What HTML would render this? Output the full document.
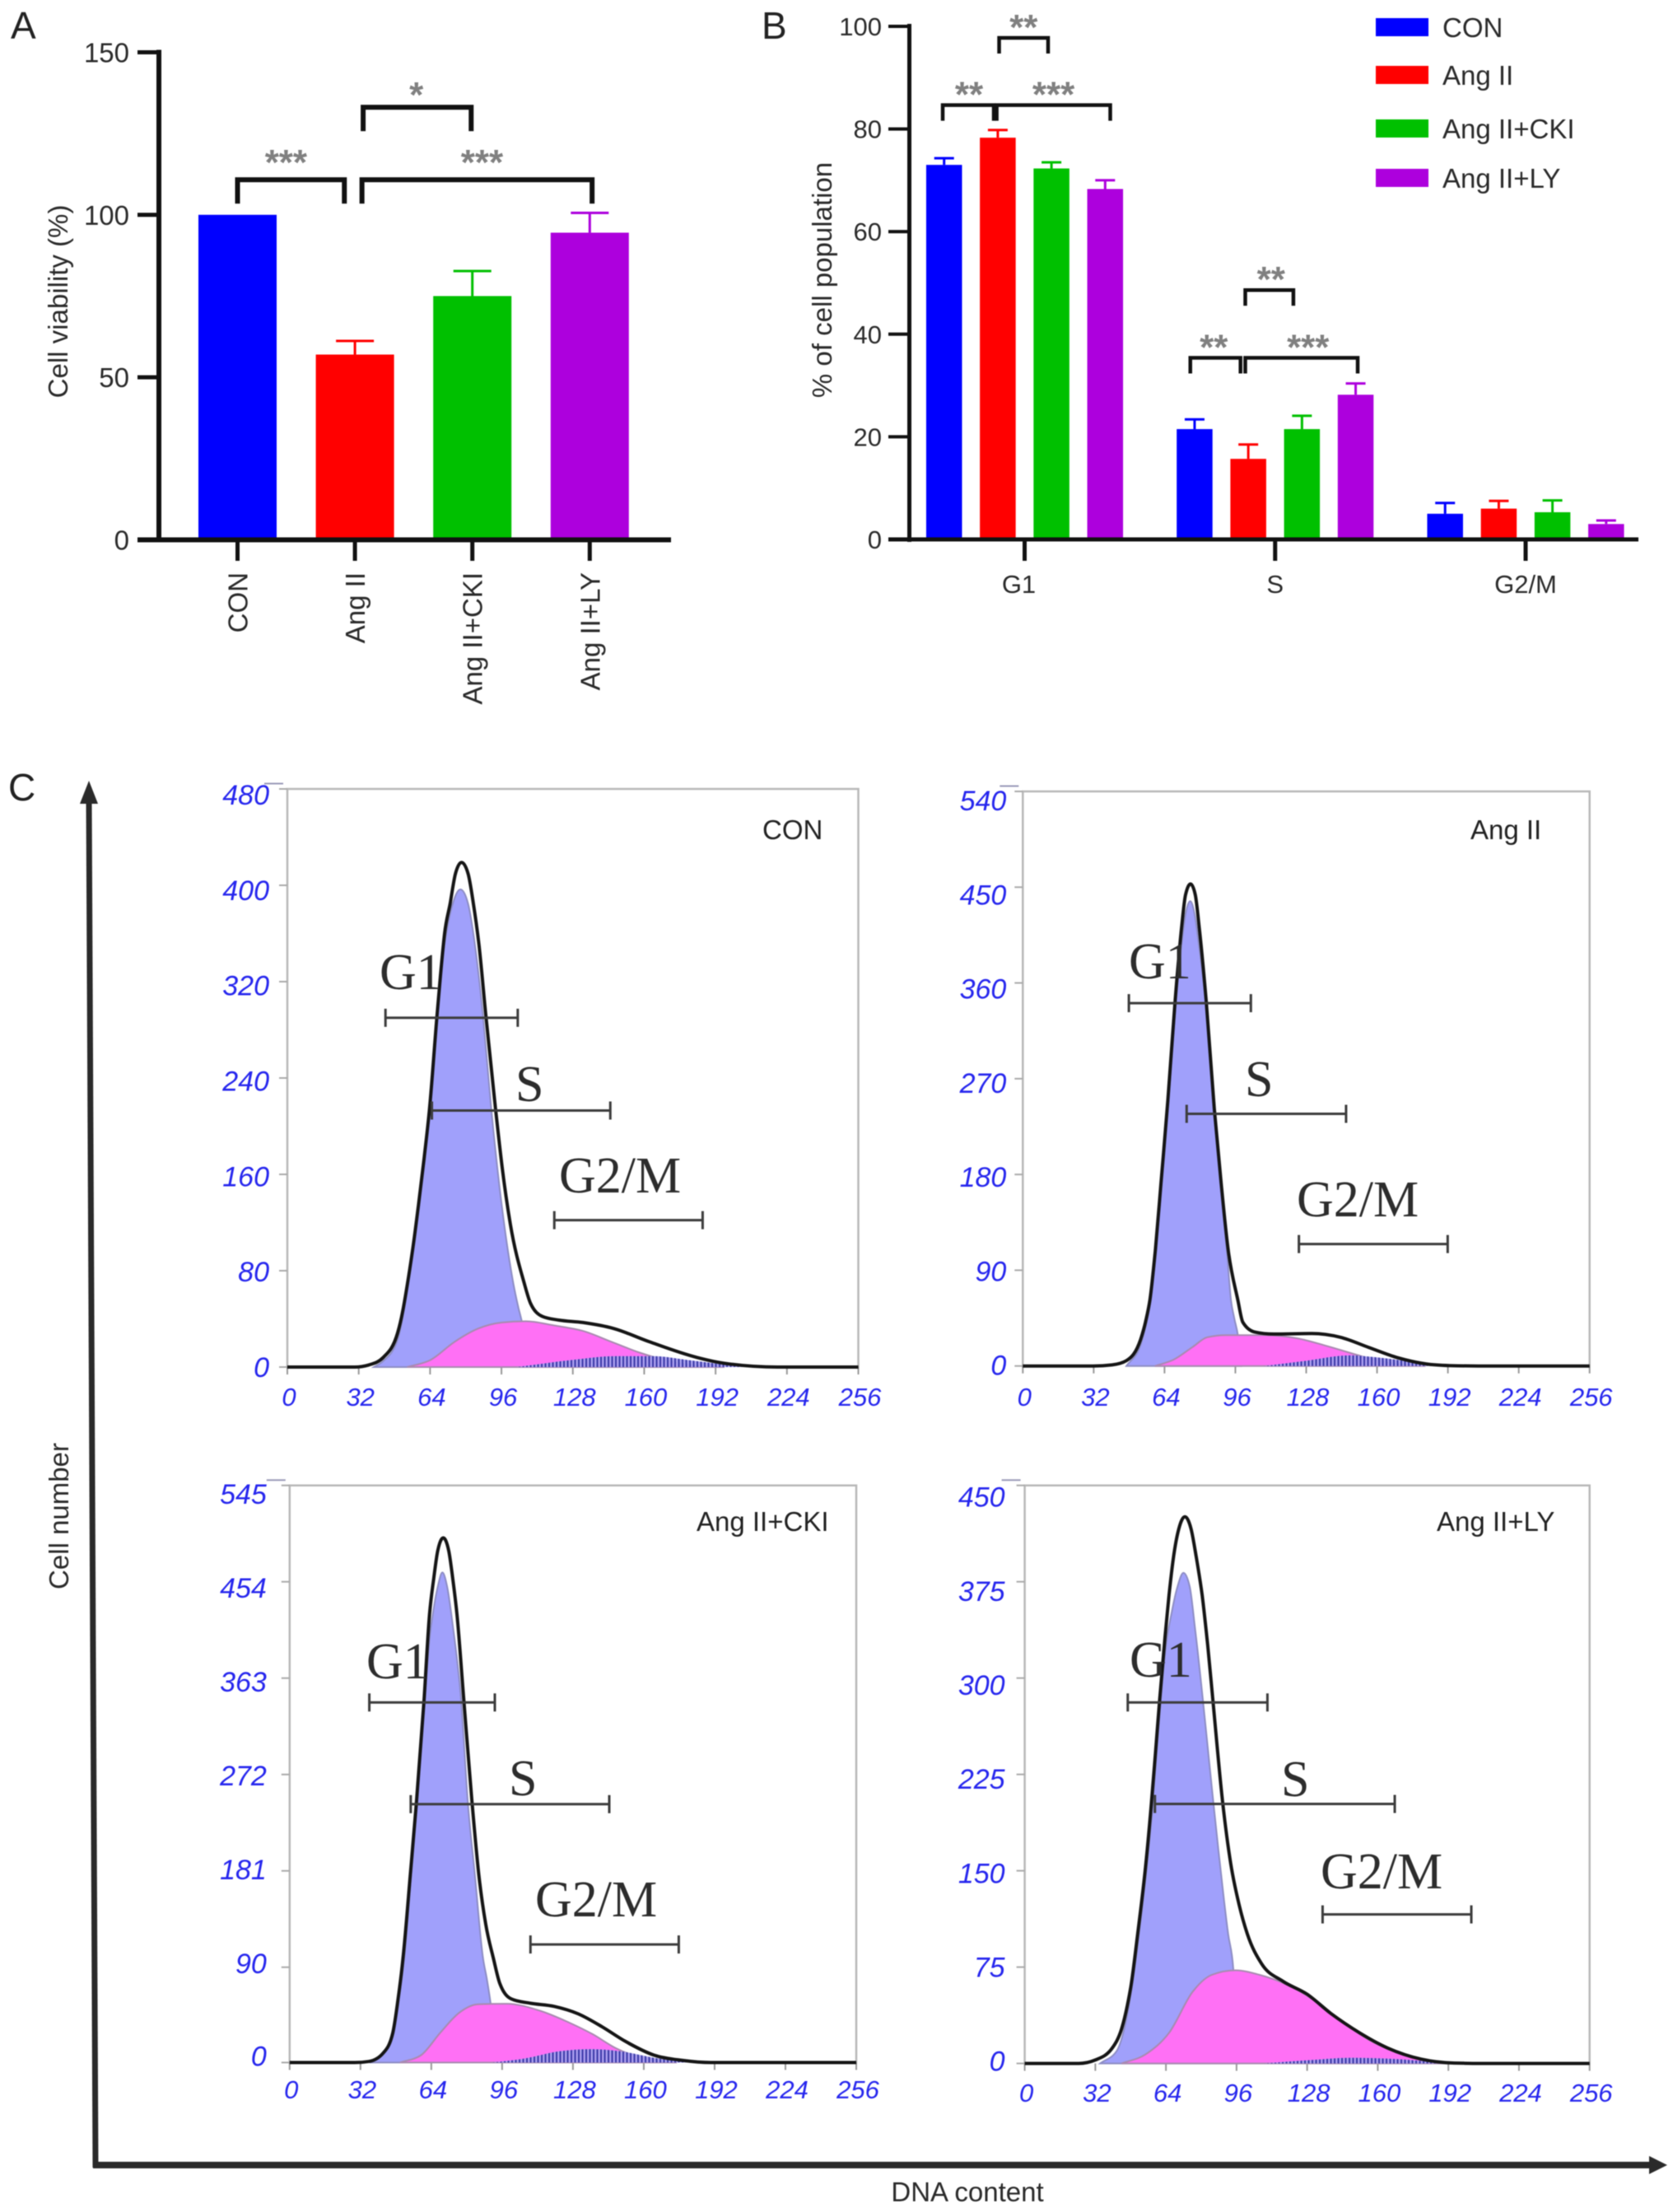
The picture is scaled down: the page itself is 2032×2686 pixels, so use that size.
<!DOCTYPE html>
<html lang="en">
<head>
<meta charset="utf-8">
<title>Cell viability and cell cycle distribution</title>
<style>
  html, body { margin: 0; padding: 0; background: #fff; }
  svg { display: block; font-family: "Liberation Sans", sans-serif; filter: blur(0.6px); }
</style>
</head>
<body>
<svg id="figure" xmlns="http://www.w3.org/2000/svg" width="2032" height="2686" viewBox="0 0 2032 2686">
  <defs>
    <pattern id="g2m-stripes" patternUnits="userSpaceOnUse" width="4.5" height="4">
      <rect x="0" y="0" width="2.2" height="4" fill="#3c3ca8"></rect>
      <rect x="2.2" y="0" width="2.3" height="4" fill="#a9a0f0"></rect>
    </pattern>
  </defs>
  <rect x="0" y="0" width="2032" height="2686" fill="#ffffff"></rect>

  <text x="13" y="47" font-size="46" fill="#222">A</text>
  <text x="925" y="47" font-size="46" fill="#222">B</text>
  <text x="10" y="972" font-size="46" fill="#222">C</text>

  <text transform="translate(82,366) rotate(-90)" text-anchor="middle" font-size="33" fill="#2a2a2a">Cell viability (%)</text>
  <text transform="translate(1010,340) rotate(-90)" text-anchor="middle" font-size="33" fill="#2a2a2a">% of cell population</text>
  <text transform="translate(83,1841) rotate(-90)" text-anchor="middle" font-size="33" fill="#2a2a2a">Cell number</text>
  <text x="1175" y="2673" text-anchor="middle" font-size="33" fill="#2a2a2a">DNA content</text>

  <line x1="116" y1="2632" x2="108" y2="970" stroke="#2a2a2a" stroke-width="7"></line>
  <polygon points="108,948 119,976 97,976" fill="#2a2a2a"></polygon>
  <line x1="113" y1="2629" x2="2005" y2="2629" stroke="#2a2a2a" stroke-width="8"></line>
  <polygon points="2025,2629 2003,2618 2003,2640" fill="#2a2a2a"></polygon>

  <g id="chart-a"></g>
  <g id="chart-b"></g>
  <g id="chart-c"></g>
</svg>

<script>
/* ---------- Panel A data ---------- */
const viabilityCategories = ['CON', 'Ang II', 'Ang II+CKI', 'Ang II+LY'];
const viabilityMeans = [100, 57, 75, 94.5];
const viabilityErrorTops = [100, 61.2, 82.7, 100.6];
const viabilityTicks = [0, 50, 100, 150];

/* ---------- Panel B data ---------- */
const phaseLabels = ['G1', 'S', 'G2/M'];
const seriesNames = ['CON', 'Ang II', 'Ang II+CKI', 'Ang II+LY'];
const conPopulation = [73, 21.5, 5];
const angPopulation = [78.3, 15.7, 6];
const ckiPopulation = [72.3, 21.5, 5.3];
const lyPopulation = [68.3, 28.2, 3];
const conPopulationTops = [74.3, 23.4, 7.1];
const angPopulationTops = [79.8, 18.5, 7.5];
const ckiPopulationTops = [73.5, 24.1, 7.6];
const lyPopulationTops = [70, 30.4, 3.7];
const populationTicks = [0, 20, 40, 60, 80, 100];

/* ---------- Panel C data: [channel, count] ---------- */
const channelTicks = [0, 32, 64, 96, 128, 160, 192, 224, 256];

const conCountTicks = [0, 80, 160, 240, 320, 400, 480];
const conOutline = [[0,0],[30.2,0],[36.6,1.8],[43,8],[49.4,28],[51.8,47],[53.9,69.7],[56.4,100.5],[58.8,134.7],[61.3,173.2],[63.8,215.4],[67.1,292],[68.7,326],[70.5,360],[73,385],[75.4,410],[78.1,419],[81,410],[83.4,385],[85.9,351],[89,292],[93.3,215.4],[96.3,166],[100,118.5],[106.2,69.7],[109,53],[114.4,42],[121.8,39],[132.5,37],[146.3,32],[162.3,21],[183.6,8],[196.4,3],[219.8,0],[256,0]];
const conG1 = [[38.8,0],[43,5],[49.4,22.6],[53.9,66],[56.4,97],[58.8,131],[61.3,170],[63.8,212],[67.1,289],[69.9,344],[71.7,364.7],[74.2,385],[77.6,396.6],[81,385],[83.4,360],[87.7,292],[91.4,215],[95.1,150],[98.8,98],[101.3,69.7],[103.5,50],[105.2,37],[108,0]];
const conS = [[53.7,0],[64.3,6],[75,21],[85.6,32],[96.3,37],[107,38],[119.7,34.5],[132.5,30],[145.3,21],[158,12],[171,5],[183.6,1],[196,0]];
const conG2M = [[102.7,0],[128,6],[147.4,9],[164.4,9],[179,6],[192,3],[205,0]];
const conGates = [[44,103.3,290],[64.8,144.8,213],[119.7,186.2,122]];

const angCountTicks = [0, 90, 180, 270, 360, 450, 540];
const angOutline = [[0,0],[31.8,0],[40.3,1],[46.8,5],[53.2,25],[55.5,42],[57.4,62.2],[59.9,109.9],[62.4,171.8],[65.5,249.2],[68.8,343.4],[71.7,411.8],[73.5,442.7],[75.75,453],[77.9,442.7],[79.7,411.8],[82.8,343.4],[86.5,241.5],[89.6,171.8],[92.7,109.9],[97.1,62.2],[99.4,41],[104.7,32],[113.3,30],[130.5,30.5],[143.4,27],[156.2,17.5],[169,8],[182,2],[192.7,0.4],[205.6,0],[256,0]];
const angG1 = [[46.8,0],[53.2,20],[55.8,40],[57.7,62],[60.2,110],[62.7,171.8],[65.8,249],[69.2,343.4],[71.7,396],[73.5,424.7],[75.6,436.9],[77.6,424.7],[79.5,396],[82.5,343.4],[86.2,241.5],[89.3,171.8],[92.1,110],[94,62],[95.5,45],[97.2,28],[98.7,0]];
const angS = [[59.7,0],[68.2,6],[76.8,18],[83.3,27],[91.8,29],[109,29],[124,26],[137,19],[150,11],[162.7,4],[177.7,0.4],[182,0]];
const angG2M = [[109,0],[128.3,5],[147.6,10],[160.5,8],[175.5,4],[188.4,0]];
const angGates = [[47.9,103,341],[74,146,237],[124.7,191.9,114.6]];

const ckiCountTicks = [0, 90, 181, 272, 363, 454, 545];
const ckiOutline = [[0,0],[29.4,0],[35.8,1],[42.3,9],[46.6,28],[49,60],[51.2,98],[54.5,177],[57.3,245.9],[60.7,341.8],[63.2,423.4],[65.1,457],[66.9,483],[69.4,495.5],[71.9,483],[73.7,457],[75.6,423.4],[78.7,341.8],[82.4,245.9],[85.5,177],[88.6,130.5],[92.1,98],[94.9,75],[100.2,60],[108.8,56],[119.5,53],[130.3,46],[141,34],[151.7,20],[164.6,7],[177.5,2],[190.4,0],[256,0]];
const ckiG1 = [[36.9,0],[44.4,15.5],[48,45],[51.7,98],[54.9,177],[57.6,246],[61.1,345.6],[63.2,400],[65.1,429],[66.9,449],[69,462.8],[71.2,449],[73.7,413],[77.5,341.8],[80.5,245.9],[83.7,177],[87.4,98],[89.1,79],[90.8,56],[93.8,0]];
const ckiS = [[49.8,0],[59.4,7],[68,28],[76.6,47],[85.2,55],[98,55.5],[113,49],[126,38],[136.7,27],[147.4,13.5],[158,5],[171,0.4],[175,0]];
const ckiG2M = [[91.6,0],[106.6,4],[121.7,10.6],[136.7,12.7],[149.6,10.6],[164.6,4.5],[181.8,0]];
const ckiGates = [[36,92.7,340],[54.7,144.4,244],[108.8,175.8,111.5]];

const lyCountTicks = [0, 75, 150, 225, 300, 375, 450];
const lyOutline = [[0,0],[24.5,0],[32,2.7],[39.6,11.8],[43.9,27],[46.5,45],[48.2,61],[51.2,100.8],[54.9,155.3],[57.4,202.3],[59.2,240.8],[61.1,282.5],[63.6,332.7],[65.4,364.7],[67.3,392.6],[69.8,416],[72.6,425.6],[75.4,416],[77.9,392.6],[80.4,364.7],[82.9,326],[85.3,282.5],[89.7,203.4],[93.4,155.3],[97.2,123.3],[100.9,100.8],[107.4,77.5],[117,64],[127.9,54],[138.7,39],[151.6,24],[164.5,12],[179.6,3.4],[194.6,0.3],[207.6,0],[256,0]];
const lyG1 = [[34.2,0],[41.8,10],[46,34],[48.8,62],[51.8,100.8],[55.3,153],[58,201],[59.6,239],[61.7,283.7],[63.6,320],[66.7,352],[69.2,371],[71.9,381.9],[74.8,371],[77.3,337],[85.3,206.6],[87.8,166],[90.3,127.5],[92.2,100.8],[94.5,74],[96.7,0]];
const lyS = [[43.9,0],[54.7,7],[65.5,24],[76.2,56],[84.8,69],[95.6,72.5],[106.4,69],[119.3,61],[130,50.5],[143,33.7],[155.9,18.5],[168.8,8.4],[181.7,2.4],[192.5,0]];
const lyG2M = [[108.5,0],[130,2.7],[147.3,4.4],[164.5,3.7],[179.6,2],[190.3,0]];
const lyGates = [[46.7,110,281],[59,167.7,202],[135,202.4,116]];

/* ---------- Helpers ---------- */
const NS = 'http://www.w3.org/2000/svg';
const colors = ['#0000ff', '#ff0000', '#00c000', '#ad00dd'];
const inkDark = '#2a2a2a';

function mk(parent, tag, attrs, text) {
  const el = document.createElementNS(NS, tag);
  Object.keys(attrs).forEach(function (k) { el.setAttribute(k, attrs[k]); });
  if (text !== undefined) el.textContent = text;
  parent.appendChild(el);
  return el;
}

/* Monotone cubic through pixel points (keeps base lines flat) */
function smoothPath(pts, close) {
  const n = pts.length;
  const h = [], m = [], t = [];
  for (let i = 0; i < n - 1; i++) {
    h[i] = pts[i + 1][0] - pts[i][0];
    m[i] = (pts[i + 1][1] - pts[i][1]) / h[i];
  }
  t[0] = m[0];
  t[n - 1] = m[n - 2];
  for (let i = 1; i < n - 1; i++) {
    const p = (m[i - 1] * h[i] + m[i] * h[i - 1]) / (h[i - 1] + h[i]);
    const s = (Math.sign(m[i - 1]) + Math.sign(m[i]));
    t[i] = s * Math.min(Math.abs(m[i - 1]), Math.abs(m[i]), 0.5 * Math.abs(p));
  }
  let d = 'M' + pts[0][0].toFixed(1) + ',' + pts[0][1].toFixed(1);
  for (let i = 0; i < n - 1; i++) {
    const k = h[i] / 3;
    d += 'C' + (pts[i][0] + k).toFixed(1) + ',' + (pts[i][1] + t[i] * k).toFixed(1) + ' ' +
      (pts[i + 1][0] - k).toFixed(1) + ',' + (pts[i + 1][1] - t[i + 1] * k).toFixed(1) + ' ' +
      pts[i + 1][0].toFixed(1) + ',' + pts[i + 1][1].toFixed(1);
  }
  return close ? d + 'Z' : d;
}

function drawStars(parent, cx, cy, stars) {
  const fs = 44;
  const el = mk(parent, 'text', { x: cx, y: cy + fs * 0.5, 'text-anchor': 'middle', 'font-size': fs, 'font-weight': 'bold', fill: '#808080' }, stars);
  
  
}

function drawBracket(parent, x1, x2, y, drop, width) {
  const el = mk(parent, 'path', { d: 'M' + x1 + ',' + (y + drop) + 'V' + y + 'H' + x2 + 'V' + (y + drop), fill: 'none', stroke: '#111', 'stroke-width': width });
  
  
}

/* ---------- Panel A ---------- */
(function () {
  const root = document.getElementById('chart-a');
  const y0 = 655.5, yTop = 63.5, axisX = 193;
  const yA = function (v) { return y0 - v * (y0 - yTop) / 150; };
  const xA = function (c) { return 288.5 + c * 142.6; };
  const barW = 95, capHalf = 23;

  viabilityCategories.forEach(function (cat, i) {
    const cx = xA(i);
    const bar = mk(root, 'rect', { x: cx - barW / 2, y: yA(viabilityMeans[i]), width: barW, height: y0 - yA(viabilityMeans[i]), fill: colors[i] });
    
    
    if (viabilityErrorTops[i] > viabilityMeans[i]) {
      const err = mk(root, 'path', { d: 'M' + cx + ',' + yA(viabilityMeans[i]) + 'V' + yA(viabilityErrorTops[i]) + 'M' + (cx - capHalf) + ',' + yA(viabilityErrorTops[i]) + 'H' + (cx + capHalf), stroke: colors[i], 'stroke-width': 3, fill: 'none' });
      
      
    }
    const tick = mk(root, 'line', { x1: cx, x2: cx, y1: y0, y2: 681, stroke: '#111', 'stroke-width': 5 });
    
    
    const label = mk(root, 'text', { transform: 'translate(' + (cx + 12) + ',695) rotate(-90)', 'text-anchor': 'end', 'font-size': 33, fill: inkDark }, cat);
    
    
  });

  const yAxis = mk(root, 'line', { x1: axisX, x2: axisX, y1: yA(150) - 3, y2: y0 + 3, stroke: '#111', 'stroke-width': 6 });
  
  
  const xAxis = mk(root, 'line', { x1: 167, x2: 815, y1: y0, y2: y0, stroke: '#111', 'stroke-width': 6 });
  
  

  viabilityTicks.forEach(function (v) {
    const t = mk(root, 'line', { x1: 167, x2: axisX, y1: yA(v), y2: yA(v), stroke: '#111', 'stroke-width': 5 });
    
    
    const l = mk(root, 'text', { x: 157, y: yA(v) + 12, 'text-anchor': 'end', 'font-size': 33, fill: inkDark }, String(v));
    
    
  });

  /* [from category, to category, level, stars, star gap, star shift] */
  const viabilityBrackets = [
    [0, 0.91, 110.8, '***', 28, -6],
    [1.06, 3.02, 110.8, '***', 28, 6],
    [1.07, 1.99, 133.1, '*', 22, -1]
  ];
  viabilityBrackets.forEach(function (b) {
    drawBracket(root, xA(b[0]), xA(b[1]), yA(b[2]), 29, 6);
    drawStars(root, (xA(b[0]) + xA(b[1])) / 2 + b[5], yA(b[2]) - b[4], b[3]);
  });
})();

/* ---------- Panel B ---------- */
(function () {
  const root = document.getElementById('chart-b');
  const y0 = 655, unit = 6.23, axisX = 1104.5;
  const yB = function (v) { return y0 - v * unit; };
  const xB = function (g, s) { return 1244.5 + g * 304.25 + s * 65.2; };
  const barW = 43.5, capHalf = 12;
  const series = [conPopulation, angPopulation, ckiPopulation, lyPopulation];
  const tops = [conPopulationTops, angPopulationTops, ckiPopulationTops, lyPopulationTops];

  phaseLabels.forEach(function (phase, g) {
    series.forEach(function (vals, j) {
      const cx = xB(g, j - 1.5);
      const bar = mk(root, 'rect', { x: cx - barW / 2, y: yB(vals[g]), width: barW, height: y0 - yB(vals[g]), fill: colors[j] });
      
      
      const err = mk(root, 'path', { d: 'M' + cx + ',' + yB(vals[g]) + 'V' + yB(tops[j][g]) + 'M' + (cx - capHalf) + ',' + yB(tops[j][g]) + 'H' + (cx + capHalf), stroke: colors[j], 'stroke-width': 3, fill: 'none' });
      
      
    });
    const cx = xB(g, 0);
    const tick = mk(root, 'line', { x1: cx, x2: cx, y1: y0, y2: 681, stroke: '#111', 'stroke-width': 5 });
    
    
    const label = mk(root, 'text', { x: g === 0 ? cx - 7 : cx, y: 720, 'text-anchor': 'middle', 'font-size': 31, fill: inkDark }, phase);
    
    
  });

  const yAxis = mk(root, 'line', { x1: axisX, x2: axisX, y1: yB(100) - 3, y2: y0 + 3, stroke: '#111', 'stroke-width': 5 });
  
  
  const xAxis = mk(root, 'line', { x1: 1079, x2: 1990, y1: y0, y2: y0, stroke: '#111', 'stroke-width': 5 });
  
  

  populationTicks.forEach(function (v) {
    const t = mk(root, 'line', { x1: 1079, x2: axisX, y1: yB(v), y2: yB(v), stroke: '#111', 'stroke-width': 4 });
    
    
    const l = mk(root, 'text', { x: 1071, y: yB(v) + 11, 'text-anchor': 'end', 'font-size': 31, fill: inkDark }, String(v));
    
    
  });

  /* [group, from series pos, to series pos, level, stars, star shift] */
  const populationBrackets = [
    [0, -1.526, -0.575, 84.66, '**', 1],
    [0, -0.52, 1.595, 84.66, '***', 0],
    [0, -0.475, 0.437, 97.75, '**', 0],
    [1, -1.58, -0.645, 35.4, '**', -2],
    [1, -0.556, 1.538, 35.4, '***', 8],
    [1, -0.556, 0.34, 48.6, '**', 2]
  ];
  populationBrackets.forEach(function (b) {
    const x1 = xB(b[0], b[1]), x2 = xB(b[0], b[2]);
    drawBracket(root, x1, x2, yB(b[3]), 19, 4.5);
    drawStars(root, (x1 + x2) / 2 + b[5], yB(b[3]) - 20, b[4]);
  });

  const legendY = [22, 80, 145, 205];
  seriesNames.forEach(function (name, i) {
    const sw = mk(root, 'rect', { x: 1671, y: legendY[i], width: 64, height: 22, fill: colors[i] });
    
    
    const tx = mk(root, 'text', { x: 1752, y: legendY[i] + 23, 'font-size': 33, fill: inkDark }, name);
    
    
  });
})();

/* ---------- Panel C ---------- */
(function () {
  const root = document.getElementById('chart-c');
  const histogramLayouts = [
    { key: 'con', title: 'CON', titleX: 926, titleY: 1019, left: 349, right: 1042.5, top: 958, zero: 1660, gap: 22, base: 0, drift: 7, xLabelY: 1707,
      ticks: conCountTicks, outline: conOutline, g1: conG1, s: conS, g2m: conG2M, gates: conGates,
      labelPos: [[461, 1201], [626, 1337], [679, 1448]] },
    { key: 'ang', title: 'Ang II', titleX: 1786, titleY: 1019, left: 1242.3, right: 1930.7, top: 961, zero: 1658.7, gap: 20, base: -1, drift: 12, xLabelY: 1707,
      ticks: angCountTicks, outline: angOutline, g1: angG1, s: angS, g2m: angG2M, gates: angGates,
      labelPos: [[1371, 1188], [1512, 1331], [1575, 1477]] },
    { key: 'cki', title: 'Ang II+CKI', titleX: 846, titleY: 1859, left: 351.8, right: 1040, top: 1803.7, zero: 2504.5, gap: 28, base: -8, drift: 18.5, xLabelY: 2548,
      ticks: ckiCountTicks, outline: ckiOutline, g1: ckiG1, s: ckiS, g2m: ckiG2M, gates: ckiGates,
      labelPos: [[445, 2038], [618, 2180], [650, 2327]] },
    { key: 'ly', title: 'Ang II+LY', titleX: 1745, titleY: 1859, left: 1244.6, right: 1930.7, top: 1803.7, zero: 2505.6, gap: 24, base: -3, drift: 17, xLabelY: 2552,
      ticks: lyCountTicks, outline: lyOutline, g1: lyG1, s: lyS, g2m: lyG2M, gates: lyGates,
      labelPos: [[1372, 2036], [1556, 2181], [1604, 2293]] }
  ];
  const gateNames = ['G1', 'S', 'G2/M'];

  histogramLayouts.forEach(function (p) {
    const group = mk(root, 'g', {});
    
    

    const maxCount = p.ticks[p.ticks.length - 1];
    const xC = function (c) { return p.left + c * (p.right - p.left) / 256; };
    const yC = function (v) { return p.zero - v * (p.zero - p.top) / maxCount; };
    const toPixels = function (arr) { return arr.map(function (d) { return [xC(d[0]), yC(d[1])]; }); };

    const frame = mk(group, 'path', { d: 'M' + p.left + ',' + p.zero + 'V' + p.top + 'H' + p.right + 'V' + p.zero, fill: 'none', stroke: '#b8b8b8', 'stroke-width': 2.5 });
    
    

    const topTick = mk(group, 'line', { x1: p.left - 28, x2: p.left - 5, y1: p.top - 6.5, y2: p.top - 6.5, stroke: '#9a9ab8', 'stroke-width': 2 });
    
    

    p.ticks.forEach(function (v) {
      const t = mk(group, 'line', { x1: p.left - 10, x2: p.left, y1: yC(v), y2: yC(v), stroke: '#aaa', 'stroke-width': 2 });
      
      
      const ly = yC(v) + p.base + p.drift * v / maxCount + 12;
      const l = mk(group, 'text', { x: p.left - p.gap, y: ly, 'text-anchor': 'end', 'font-size': 34, 'font-style': 'italic', fill: '#2626ee' }, String(v));
      
      
    });

    channelTicks.forEach(function (c) {
      const t = mk(group, 'line', { x1: xC(c), x2: xC(c), y1: p.zero, y2: p.zero + 9, stroke: '#999', 'stroke-width': 2 });
      
      
      const l = mk(group, 'text', { x: xC(c) + 2, y: p.xLabelY, 'text-anchor': 'middle', 'font-size': 31, 'font-style': 'italic', fill: '#2626ee' }, String(c));
      
      
    });

    const g1Area = mk(group, 'path', { d: smoothPath(toPixels(p.g1), true), fill: '#a0a0fb', stroke: '#8d8dc4', 'stroke-width': 2 });
    
    

    const sArea = mk(group, 'path', { d: smoothPath(toPixels(p.s), true), fill: '#ff70f5', stroke: '#a98ab0', 'stroke-width': 2 });
    
    

    const g2Area = mk(group, 'path', { d: smoothPath(toPixels(p.g2m), true), fill: 'url(#g2m-stripes)', stroke: 'none' });
    
    

    const outline = mk(group, 'path', { d: smoothPath(toPixels(p.outline), false), fill: 'none', stroke: '#151515', 'stroke-width': 4 });
    
    

    p.gates.forEach(function (gate, i) {
      const x1 = xC(gate[0]), x2 = xC(gate[1]), y = yC(gate[2]);
      const g = mk(group, 'path', { d: 'M' + x1 + ',' + (y - 11) + 'V' + (y + 11) + 'M' + x1 + ',' + y + 'H' + x2 + 'M' + x2 + ',' + (y - 11) + 'V' + (y + 11), fill: 'none', stroke: '#3c3c3c', 'stroke-width': 3 });
      
      
      const lab = mk(group, 'text', { x: p.labelPos[i][0], y: p.labelPos[i][1], 'font-size': 62, 'font-family': '"Liberation Serif", serif', fill: '#2c2c2c' }, gateNames[i]);
      
      
    });

    const title = mk(group, 'text', { x: p.titleX, y: p.titleY, 'font-size': 33, fill: '#222' }, p.title);
    
    
  });
})();
</script>
</body>
</html>
